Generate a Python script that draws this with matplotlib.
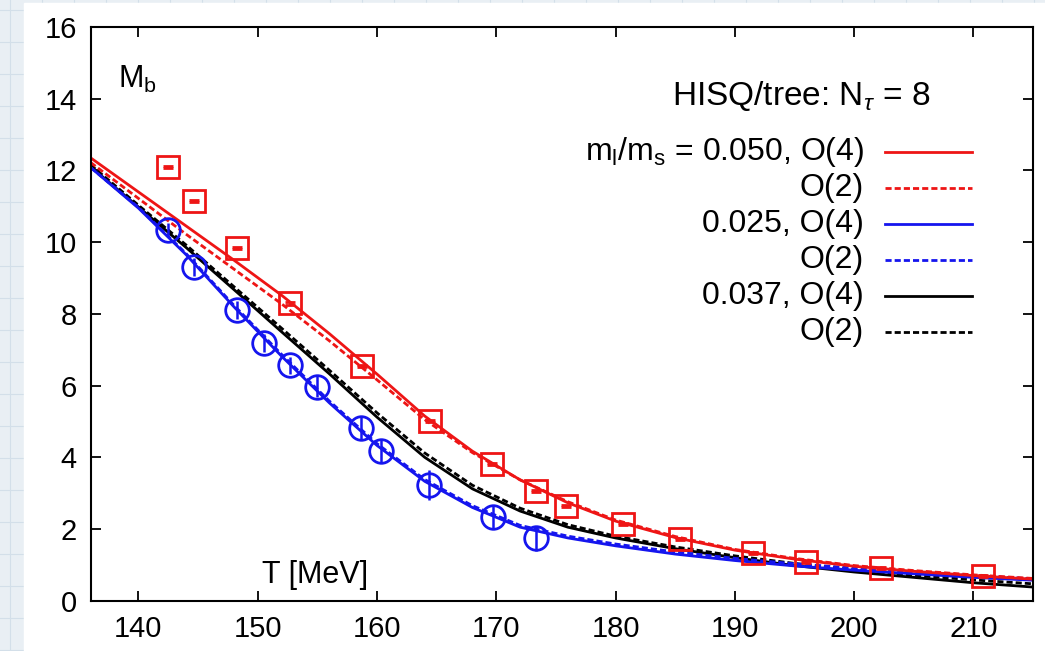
import numpy as np
import matplotlib
matplotlib.use("Agg")
import matplotlib.pyplot as plt

plt.rcParams['font.family'] = ['Liberation Sans', 'DejaVu Sans']
plt.rcParams['mathtext.fontset'] = 'custom'
plt.rcParams['mathtext.rm'] = 'Liberation Sans'
plt.rcParams['mathtext.it'] = 'Liberation Sans:italic'

RED = '#ee1515'
BLUE = '#1515ee'
BLACK = '#000000'

# data points, m_l/m_s = 0.050 (squares)
t_050 = [142.45, 144.63, 148.26, 152.72, 158.77, 164.45, 169.65, 173.33, 175.84,
         180.6, 185.41, 191.55, 196.0, 202.24, 210.8]
mb_050 = [12.10, 11.15, 9.84, 8.29, 6.55, 5.02, 3.81, 3.07, 2.65,
          2.13, 1.71, 1.32, 1.09, 0.90, 0.70]
err_050 = [0.03] * len(t_050)

# data points, m_l/m_s = 0.025 (circles)
t_025 = [142.45, 144.63, 148.26, 150.49, 152.72, 155.0, 158.64, 160.31, 164.35,
         169.73, 173.33]
mb_025 = [10.34, 9.31, 8.11, 7.19, 6.56, 5.97, 4.81, 4.18, 3.23, 2.34, 1.74]
err_025 = [0.2, 0.25, 0.25, 0.25, 0.25, 0.3, 0.3, 0.3, 0.42, 0.3, 0.35]

# fit curves
t_fit = [136, 140, 144, 148, 152, 156, 160, 164, 168, 172, 176, 180,
         185, 190, 195, 200, 205, 210, 215]
fit_050_o4 = [12.35, 11.4, 10.45, 9.5, 8.52, 7.45, 6.32, 5.15, 4.17, 3.37, 2.73, 2.22,
              1.76, 1.41, 1.16, 0.96, 0.82, 0.70, 0.60]
fit_050_o2 = [12.22, 11.22, 10.22, 9.25, 8.28, 7.25, 6.16, 5.05, 4.13, 3.37, 2.76, 2.25,
              1.79, 1.43, 1.18, 0.98, 0.84, 0.72, 0.62]
fit_025_o4 = [12.08, 10.95, 9.65, 8.2, 6.82, 5.52, 4.33, 3.33, 2.6, 2.05, 1.75, 1.53,
              1.3, 1.12, 0.97, 0.85, 0.75, 0.65, 0.57]
fit_025_o2 = [12.08, 10.97, 9.68, 8.24, 6.87, 5.57, 4.38, 3.38, 2.65, 2.1, 1.8, 1.58,
              1.36, 1.18, 1.03, 0.91, 0.80, 0.70, 0.61]
fit_037_o4 = [12.1, 10.98, 9.85, 8.68, 7.5, 6.33, 5.12, 4.0, 3.12, 2.5, 2.05, 1.75,
              1.45, 1.2, 0.98, 0.8, 0.65, 0.5, 0.38]
fit_037_o2 = [12.15, 11.03, 9.92, 8.76, 7.6, 6.43, 5.24, 4.12, 3.22, 2.58, 2.12, 1.8,
              1.5, 1.25, 1.04, 0.86, 0.71, 0.58, 0.47]

legend_labels = [r'm$_\mathregular{l}$/m$_\mathregular{s}$ = 0.050, O(4)', 'O(2)',
                 '0.025, O(4)', 'O(2)', '0.037, O(4)', 'O(2)']

fig = plt.figure(figsize=(10.45, 6.51), dpi=100)
fig.patch.set_facecolor('#e9eff4')

# graph-paper backdrop with a white sheet on top
bg = fig.add_axes([0, 0, 1, 1], zorder=-5)
bg.set_xlim(0, 1045)
bg.set_ylim(651, 0)
bg.axis('off')
for gx in np.arange(10, 1045, 32):
    bg.axvline(gx, color='#d3dfe9', lw=0.8)
for gy in np.arange(10, 651, 32):
    bg.axhline(gy, color='#d3dfe9', lw=0.8)
bg.add_patch(plt.Rectangle((24, 3), 1045, 651, color='white', zorder=2))

ax = fig.add_axes([0.0868, 0.0773, 0.9017, 0.8812])
ax.set_facecolor('white')

lw = 2.0
dash = (2.2, 1.1)
ax.plot(t_fit, fit_037_o4, color=BLACK, lw=lw)
ax.plot(t_fit, fit_037_o2, color=BLACK, lw=lw, dashes=dash)
ax.plot(t_fit, fit_025_o4, color=BLUE, lw=lw)
ax.plot(t_fit, fit_025_o2, color=BLUE, lw=lw, dashes=dash)
ax.plot(t_fit, fit_050_o4, color=RED, lw=lw)
ax.plot(t_fit, fit_050_o2, color=RED, lw=lw, dashes=dash)

ax.errorbar(t_050, mb_050, yerr=err_050, fmt='s', ms=16, mfc='none', mec=RED,
            mew=2.0, ecolor=RED, elinewidth=2.0, capsize=3.5, capthick=2.2)
ax.errorbar(t_025, mb_025, yerr=err_025, fmt='o', ms=17, mfc='none', mec=BLUE,
            mew=2.0, ecolor=BLUE, elinewidth=1.8, capsize=0)

ax.set_xlim(136, 215)
ax.set_ylim(0, 16)
ax.set_xticks([140, 150, 160, 170, 180, 190, 200, 210])
ax.set_yticks([0, 2, 4, 6, 8, 10, 12, 14, 16])
ax.tick_params(direction='in', length=7, width=1.3, top=True, right=True,
               labelsize=21, pad=10)
for sp in ax.spines.values():
    sp.set_linewidth(1.5)

ax.text(138.3, 14.3, r'M$_\mathregular{b}$', fontsize=22, ha='left', va='baseline')
ax.text(150.4, 0.5, 'T [MeV]', fontsize=22, ha='left', va='baseline')
ax.text(0.8907, 0.864, r'HISQ/tree: N$_\tau$ = 8', transform=ax.transAxes,
        fontsize=24, ha='right', va='baseline')

# legend drawn by hand: right-aligned labels, line samples after them
styles = [(RED, None), (RED, dash), (BLUE, None), (BLUE, dash), (BLACK, None), (BLACK, dash)]
row_y0 = 0.7827
row_dy = 36.0 / 573.7
for i, (lab, (col, ds)) in enumerate(zip(legend_labels, styles)):
    yy = row_y0 - i * row_dy
    ax.text(0.8207, yy, lab, transform=ax.transAxes, fontsize=23,
            ha='right', va='center')
    kw = dict(color=col, lw=lw, transform=ax.transAxes)
    if ds:
        kw['dashes'] = ds
    ax.plot([0.8429, 0.935], [yy, yy], **kw)

fig.savefig('out.png', dpi=100)
